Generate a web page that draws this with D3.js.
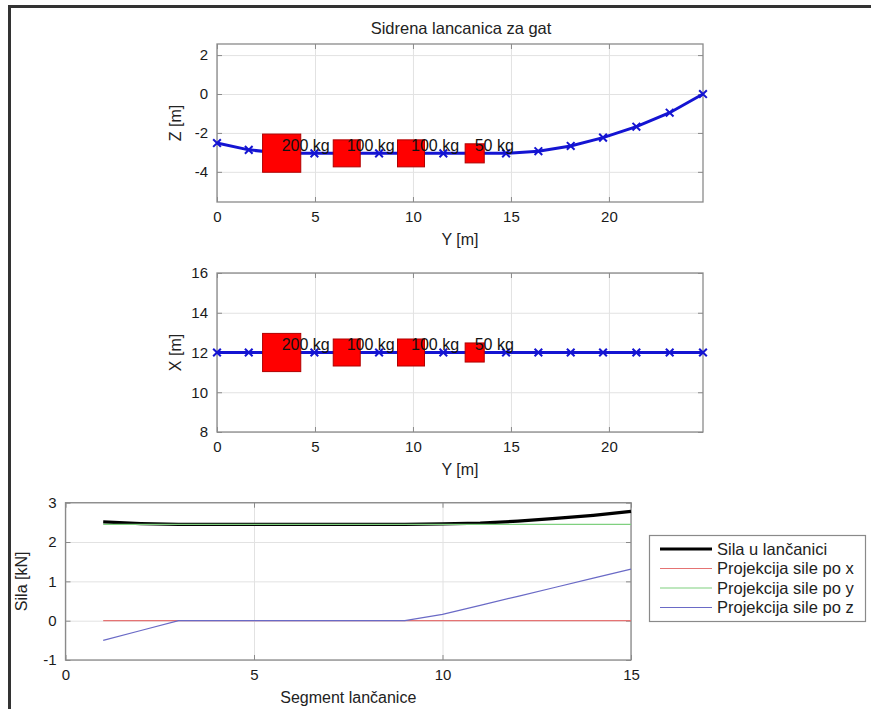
<!DOCTYPE html>
<html>
<head>
<meta charset="utf-8">
<script src="https://cdn.jsdelivr.net/npm/d3@7"></script>
<style>
  body { margin: 0; background: #fff; }
  svg { display: block; font-family: "Liberation Sans", Arial, sans-serif; }
</style>
</head>
<body>
<svg id="chart" width="871" height="709"></svg>
<script>
// chain nodes (horizontal Y, depth Z, side X)
const chainY = [0, 1.62, 3.3, 4.97, 6.62, 8.27, 9.9, 11.55, 13.15, 14.75, 16.4, 18.05, 19.7, 21.4, 23.1, 24.8];
const chainZ = [-2.52, -2.87, -3.04, -3.05, -3.05, -3.05, -3.05, -3.05, -3.05, -3.05, -2.94, -2.67, -2.24, -1.68, -0.96, 0];
const chainX = [12, 12, 12, 12, 12, 12, 12, 12, 12, 12, 12, 12, 12, 12, 12, 12];

// weights hung on the chain
const weightY = [3.3, 6.62, 9.9, 13.15];
const weightZ = [-3.04, -3.05, -3.05, -3.05];
const weightX = [12, 12, 12, 12];
const weightMass = [200, 100, 100, 50];
const weightLabels = ['200 kg', '100 kg', '100 kg', '50 kg'];

// forces per segment
const segments = [1, 2, 3, 4, 5, 6, 7, 8, 9, 10, 11, 12, 13, 14, 15];
const silaTotal = [2.51, 2.47, 2.45, 2.45, 2.45, 2.45, 2.45, 2.45, 2.45, 2.46, 2.48, 2.53, 2.6, 2.68, 2.78];
const silaX = [0, 0, 0, 0, 0, 0, 0, 0, 0, 0, 0, 0, 0, 0, 0];
const silaY = [2.45, 2.45, 2.45, 2.45, 2.45, 2.45, 2.45, 2.45, 2.45, 2.45, 2.45, 2.45, 2.45, 2.45, 2.45];
const silaZ = [-0.5, -0.25, 0, 0, 0, 0, 0, 0, 0, 0.16, 0.39, 0.62, 0.85, 1.08, 1.31];
const seriesNames = ['Sila u lančanici', 'Projekcija sile po x', 'Projekcija sile po y', 'Projekcija sile po z'];

// ticks
const posTicks = [0, 5, 10, 15, 20];
const zTicks = [-4, -2, 0, 2];
const xTicks = [8, 10, 12, 14, 16];
const segTicks = [0, 5, 10, 15];
const silaTicks = [-1, 0, 1, 2, 3];

const svg = d3.select('svg#chart');

// figure frame
svg.append('line').attr('x1', 9.5).attr('y1', 6).attr('x2', 9.5).attr('y2', 709)
  .attr('stroke', '#333').attr('stroke-width', 3);
svg.append('line').attr('x1', 8).attr('y1', 6.5).attr('x2', 871).attr('y2', 6.5)
  .attr('stroke', '#333').attr('stroke-width', 3);

// draws grid, box, ticks and labels of one axes
function drawAxes(x, y, xt, yt, xlabel, ylabel, ylabelX) {
  const [x0, x1] = x.range();
  const [y0, y1] = y.range(); // y0 bottom, y1 top
  const g = svg.append('g');

  // grid
  g.append('g').attr('transform', `translate(0,${y0})`)
    .call(d3.axisBottom(x).tickValues(xt).tickSize(-(y0 - y1)).tickFormat(''))
    .call((a) => a.select('.domain').remove())
    .call((a) => a.selectAll('text').remove())
    .selectAll('line').attr('stroke', '#e2e2e2');
  g.append('g').attr('transform', `translate(${x0},0)`)
    .call(d3.axisLeft(y).tickValues(yt).tickSize(-(x1 - x0)).tickFormat(''))
    .call((a) => a.select('.domain').remove())
    .call((a) => a.selectAll('text').remove())
    .selectAll('line').attr('stroke', '#e2e2e2');

  // inward ticks on all four sides, labels only bottom and left
  const tick = 5;
  const axes = [
    [d3.axisBottom(x).tickValues(xt), `translate(0,${y0})`, true],
    [d3.axisTop(x).tickValues(xt), `translate(0,${y1})`, false],
    [d3.axisLeft(y).tickValues(yt), `translate(${x0},0)`, true],
    [d3.axisRight(y).tickValues(yt), `translate(${x1},0)`, false],
  ];
  axes.forEach(([ax, tr, labels]) => {
    const a = g.append('g').attr('transform', tr)
      .call(ax.tickSizeInner(-tick).tickSizeOuter(0).tickPadding(9).tickFormat((d) => String(d)));
    a.select('.domain').remove();
    a.selectAll('line').attr('stroke', '#8a8a8a');
    if (labels) {
      a.selectAll('text').attr('font-size', '15px')
        .attr('fill', '#1a1a1a').attr('font-family', 'Liberation Sans, Arial, sans-serif');
    } else {
      a.selectAll('text').remove();
    }
  });

  g.append('rect').attr('x', x0).attr('y', y1)
    .attr('width', x1 - x0).attr('height', y0 - y1)
    .attr('fill', 'none').attr('stroke', '#8a8a8a').attr('stroke-width', 1.3);

  g.append('text').attr('x', (x0 + x1) / 2).attr('y', y0 + 43)
    .attr('text-anchor', 'middle').attr('font-size', '16px').attr('fill', '#222')
    .text(xlabel);
  g.append('text')
    .attr('transform', `translate(${ylabelX},${(y0 + y1) / 2}) rotate(-90)`)
    .attr('text-anchor', 'middle').attr('font-size', '16px').attr('fill', '#222')
    .text(ylabel);
}

// draws chain plus weights into one view
function drawChain(x, y, vals, wvals) {
  const line = d3.line().x((d, i) => x(chainY[i])).y((d) => y(d));
  svg.append('path').attr('d', line(vals))
    .attr('fill', 'none').attr('stroke', '#1414d2').attr('stroke-width', 3);
  svg.selectAll(null).data(vals).enter().append('path')
    .attr('transform', (d, i) => `translate(${x(chainY[i])},${y(d)})`)
    .attr('d', d3.symbol(d3.symbolX, 40))
    .attr('fill', 'none').attr('stroke', '#1414d2').attr('stroke-width', 2);

  wvals.forEach((v, i) => {
    const s = 2.7 * Math.sqrt(weightMass[i]);
    svg.append('rect')
      .attr('x', x(weightY[i]) - s / 2).attr('y', y(v) - s / 2)
      .attr('width', s).attr('height', s)
      .attr('fill', '#ff0000').attr('stroke', '#b00000').attr('stroke-width', 1);
    svg.append('text')
      .attr('x', x(weightY[i])).attr('y', y(v) - 8)
      .attr('dy', '0.35em').attr('font-size', '16px').attr('fill', '#111')
      .text(weightLabels[i]);
  });
}

// ---- top: Y-Z view
const xTop = d3.scaleLinear().domain([0, 24.8]).range([217, 703]);
const zTop = d3.scaleLinear().domain([-5.55, 2.57]).range([202, 44]);
drawAxes(xTop, zTop, posTicks, zTicks, 'Y [m]', 'Z [m]', 181);
drawChain(xTop, zTop, chainZ, weightZ);
svg.append('text').attr('x', 461).attr('y', 28).attr('dy', '0.35em')
  .attr('text-anchor', 'middle').attr('font-size', '16.5px').attr('fill', '#222')
  .text('Sidrena lancanica za gat');

// ---- middle: Y-X view
const xMid = d3.scaleLinear().domain([0, 24.8]).range([217, 703]);
const yMid = d3.scaleLinear().domain([8, 16]).range([432, 273]);
drawAxes(xMid, yMid, posTicks, xTicks, 'Y [m]', 'X [m]', 181);
drawChain(xMid, yMid, chainX, weightX);

// ---- bottom: forces
const xBot = d3.scaleLinear().domain([0, 15]).range([65.5, 631]);
const yBot = d3.scaleLinear().domain([-1, 3]).range([660, 502.7]);
drawAxes(xBot, yBot, segTicks, silaTicks, 'Segment lančanice', 'Sila [kN]', 27);

const series = [silaTotal, silaX, silaY, silaZ];
const colors = ['#000000', '#e57373', '#7fd07f', '#6a6ac6'];
const widths = [3.2, 1.2, 1.2, 1.2];
const fLine = d3.line().x((d, i) => xBot(segments[i])).y((d) => yBot(d));
series.forEach((s, i) => {
  svg.append('path').attr('d', fLine(s))
    .attr('fill', 'none').attr('stroke', colors[i]).attr('stroke-width', widths[i]);
});

// legend
const lg = svg.append('g');
lg.append('rect').attr('x', 649.5).attr('y', 535.5).attr('width', 216).attr('height', 86)
  .attr('fill', '#fff').attr('stroke', '#8a8a8a').attr('stroke-width', 1.2);
seriesNames.forEach((n, i) => {
  const yy = 549 + i * 19.5;
  lg.append('line').attr('x1', 660).attr('x2', 712).attr('y1', yy).attr('y2', yy)
    .attr('stroke', colors[i]).attr('stroke-width', widths[i]);
  lg.append('text').attr('x', 717).attr('y', yy).attr('dy', '0.35em')
    .attr('font-size', '16.5px').attr('fill', '#222').text(n);
});
</script>
</body>
</html>
